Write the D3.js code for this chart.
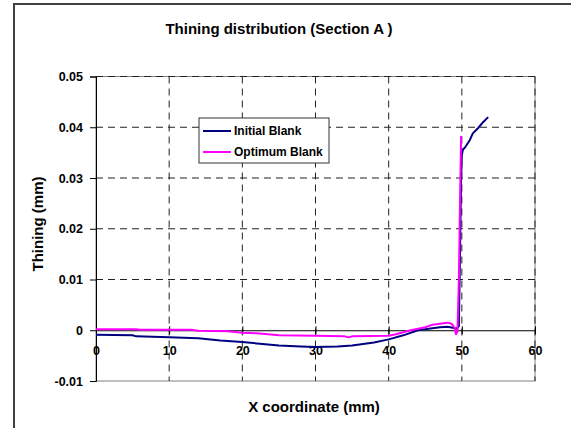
<!DOCTYPE html>
<html lang="en">
    <head>
        <meta charset="UTF-8">
        <title>Thining distribution</title>
        <style>
            body { margin: 0; background: white; }
            svg { display: block; font-family: Arial, "Liberation Sans", sans-serif; }
            .tick-label { font-size: 12.5px; font-weight: bold; fill: black; }
            .title { font-size: 15px; font-weight: bold; }
            .axis-title { font-size: 15px; font-weight: bold; }
            .legend-text { font-size: 12px; font-weight: bold; }
            .grid { stroke: #222; stroke-dasharray: 7 5; stroke-width: 1; }
        </style>
    </head>
    <body>
        <script src="https://d3js.org/d3.v7.min.js"></script>
        <script>
            const width = 571;
            const height = 428;

            const xTicks = [0, 10, 20, 30, 40, 50, 60];
            const yTicks = [-0.01, 0, 0.01, 0.02, 0.03, 0.04, 0.05];
            const yTickLabels = ["-0.01", "0", "0.01", "0.02", "0.03", "0.04", "0.05"];

            const seriesNames = ["Initial Blank", "Optimum Blank"];
            const seriesColors = ["#000080", "#ff00ff"];

            // Initial Blank
            const initialX = [0, 5, 5.5, 10, 14, 17, 20, 22, 25, 28, 30, 33, 35, 38, 40, 42, 44, 46, 47, 48, 48.8, 49.3, 49.6, 49.9, 50.0, 50.15, 50.43, 51.1, 51.5, 52.2, 52.9, 53.6];
            const initialY = [-0.0009, -0.001, -0.0012, -0.0014, -0.0016, -0.002, -0.0023, -0.0026, -0.003, -0.0032, -0.0033, -0.0032, -0.003, -0.0024, -0.0018, -0.001, 0, 0.0004, 0.0006, 0.0007, 0.0005, 0.0003, 0.0008, 0.03, 0.0345, 0.0356, 0.036, 0.0375, 0.0388, 0.0398, 0.041, 0.042];

            // Optimum Blank
            const optimumX = [0, 5.5, 6, 13, 14, 18, 20, 22, 25, 30, 34, 34.5, 35, 40, 41, 43, 45, 46, 47, 48, 48.6, 49.0, 49.2, 49.4, 49.6, 49.75, 49.9];
            const optimumY = [0.0002, 0.0002, 0.0001, 0.0001, -0.0001, -0.0002, -0.0005, -0.0006, -0.001, -0.0011, -0.0012, -0.0014, -0.0012, -0.0011, -0.0008, 0, 0.0006, 0.0011, 0.0013, 0.0015, 0.0013, 0.0005, -0.0008, -0.0003, 0.01, 0.025, 0.0383];

            const series = [
                { name: seriesNames[0], color: seriesColors[0], pts: initialX.map((x, i) => [x, initialY[i]]) },
                { name: seriesNames[1], color: seriesColors[1], pts: optimumX.map((x, i) => [x, optimumY[i]]) }
            ];

            const plot = { left: 96, right: 535, top: 76.5, bottom: 381 };

            const svg = d3.select("body").append("svg")
                .attr("width", width)
                .attr("height", height);

            // chart frame (cut off at right and bottom in the original)
            svg.append("rect")
                .attr("x", 14).attr("y", 4)
                .attr("width", 700).attr("height", 600)
                .attr("fill", "white")
                .attr("stroke", "#404040")
                .attr("stroke-width", 2);

            const x = d3.scaleLinear().domain([0, 60]).range([plot.left, plot.right]);
            const y = d3.scaleLinear().domain([-0.01, 0.05]).range([plot.bottom, plot.top]);

            // plot area border
            svg.append("rect")
                .attr("x", plot.left).attr("y", plot.top)
                .attr("width", plot.right - plot.left)
                .attr("height", plot.bottom - plot.top)
                .attr("fill", "white")
                .attr("stroke", "#808080");

            // gridlines
            svg.append("g").selectAll("line")
                .data(yTicks.filter(d => d > 0))
                .join("line")
                .attr("class", "grid")
                .attr("x1", plot.left).attr("x2", plot.right)
                .attr("y1", d => y(d)).attr("y2", d => y(d));

            svg.append("g").selectAll("line")
                .data(xTicks.filter(d => d > 0))
                .join("line")
                .attr("class", "grid")
                .attr("x1", d => x(d)).attr("x2", d => x(d))
                .attr("y1", plot.top).attr("y2", plot.bottom);

            // y axis
            const yAxis = svg.append("g")
                .attr("transform", `translate(${plot.left},0)`)
                .call(d3.axisLeft(y)
                    .tickValues(yTicks)
                    .tickSize(6)
                    .tickPadding(7)
                    .tickFormat((d, i) => yTickLabels[i]));
            yAxis.select(".domain").attr("stroke", "black");
            yAxis.selectAll(".tick line").attr("stroke", "black");
            yAxis.selectAll("text").attr("class", "tick-label").attr("font-family", null).attr("font-size", null);

            // x axis crossing at y = 0
            const xAxis = svg.append("g")
                .attr("transform", `translate(0,${y(0)})`)
                .call(d3.axisBottom(x)
                    .tickValues(xTicks)
                    .tickSizeOuter(0)
                    .tickSizeInner(4)
                    .tickPadding(12));
            xAxis.select(".domain").attr("stroke", "black");
            xAxis.selectAll(".tick line").attr("stroke", "black").attr("y1", -4);
            xAxis.selectAll("text").attr("class", "tick-label").attr("font-family", null).attr("font-size", null);

            // series lines
            const line = d3.line().x(d => x(d[0])).y(d => y(d[1]));
            svg.append("g").selectAll("path")
                .data(series)
                .join("path")
                .attr("fill", "none")
                .attr("stroke", d => d.color)
                .attr("stroke-width", 2)
                .attr("stroke-linejoin", "round")
                .attr("d", d => line(d.pts));

            // titles
            svg.append("text")
                .attr("class", "title")
                .attr("x", 279).attr("y", 34)
                .attr("text-anchor", "middle")
                .text("Thining distribution (Section A )");

            svg.append("text")
                .attr("class", "axis-title")
                .attr("x", 314).attr("y", 412)
                .attr("text-anchor", "middle")
                .text("X coordinate (mm)");

            svg.append("text")
                .attr("class", "axis-title")
                .attr("transform", "translate(43,224) rotate(-90)")
                .attr("text-anchor", "middle")
                .text("Thining (mm)");

            // legend
            const legend = svg.append("g").attr("transform", "translate(199,118)");
            legend.append("rect")
                .attr("width", 130).attr("height", 45)
                .attr("fill", "white")
                .attr("stroke", "#333");
            const items = legend.selectAll("g.item")
                .data(series)
                .join("g")
                .attr("class", "item")
                .attr("transform", (d, i) => `translate(0,${13 + i * 21})`);
            items.append("line")
                .attr("x1", 4).attr("x2", 32)
                .attr("stroke", d => d.color)
                .attr("stroke-width", 2);
            items.append("text")
                .attr("class", "legend-text")
                .attr("x", 35).attr("dy", "0.35em")
                .text(d => d.name);
        </script>
    </body>
</html>
